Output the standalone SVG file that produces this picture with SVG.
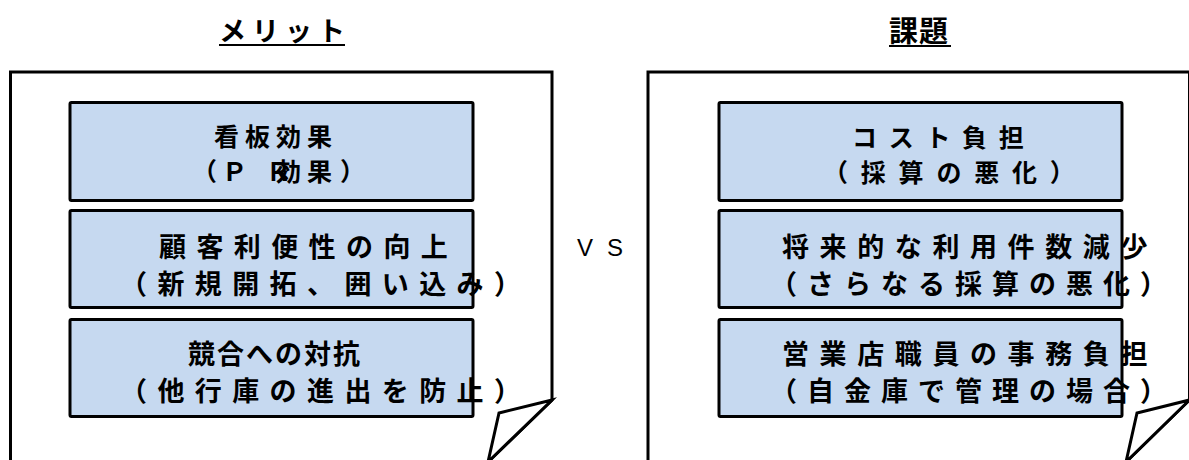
<svg xmlns="http://www.w3.org/2000/svg" width="1189" height="460" viewBox="0 0 1189 460">
<style>
.frame{fill:#fff;stroke:#000;stroke-width:3;stroke-linejoin:miter}
.flap{fill:#fff;stroke:#000;stroke-width:3;stroke-linejoin:miter}
.box{fill:#C6D9F0;stroke:#000;stroke-width:3}
.t{font-family:"Noto Sans CJK JP","Noto Sans CJK SC",sans-serif;font-weight:bold;fill:#000;font-size:27px}
.s{font-size:25px}
.title{font-family:"Noto Sans CJK JP",sans-serif;font-weight:bold;fill:#000}
.ul{stroke:#000;stroke-width:2}
.vs{font-family:"Liberation Sans",Arial,sans-serif;font-size:24px;fill:#000}
</style>
<g id="title-merit">
<text class="title" x="219" y="41" font-size="27" letter-spacing="6">メリット</text>
<line class="ul" x1="219" y1="45" x2="345" y2="45"/>
</g>
<g id="title-issues">
<text class="title" x="889" y="42" font-size="29" letter-spacing="1">課題</text>
<line class="ul" x1="889" y1="46" x2="951" y2="46"/>
</g>
<g id="page-left">
<path class="frame" d="M10.5,470 V72 H552 V400 L488,462"/>
<path class="flap" d="M552,400 L499,413 L488,462 Z"/>
</g>
<g id="page-right">
<path class="frame" d="M648,470 V72 H1189.5 V400 L1126,462"/>
<path class="flap" d="M1189.5,400 L1137,413 L1126,462 Z"/>
</g>
<g id="vs">
<text class="vs" x="577" y="256" letter-spacing="14">VS</text>
</g>
<g id="merit-1">
<rect class="box" x="70" y="102.5" width="403" height="98" rx="1.5"/>
<text class="t s" x="214" y="146" letter-spacing="6">看板効果</text>
<text class="t s"><tspan x="192" y="181">（</tspan><tspan x="222" y="181">Ｐ</tspan><tspan x="266" y="181">Ｒ</tspan><tspan x="276" y="181">効</tspan><tspan x="307" y="181">果</tspan><tspan x="340" y="181">）</tspan></text>
</g>
<g id="merit-2">
<rect class="box" x="70" y="210.5" width="403" height="97" rx="1.5"/>
<text class="t" x="159" y="257" letter-spacing="10.4">顧客利便性の向上</text>
<text class="t" x="120" y="294" letter-spacing="10.4">（新規開拓、囲い込み）</text>
</g>
<g id="merit-3">
<rect class="box" x="70" y="319.5" width="403" height="97" rx="1.5"/>
<text class="t" x="188" y="364" letter-spacing="2">競合への対抗</text>
<text class="t" x="120" y="401" letter-spacing="10.4">（他行庫の進出を防止）</text>
</g>
<g id="issue-1">
<rect class="box" x="719" y="102.5" width="403" height="98" rx="1.5"/>
<text class="t s" x="852" y="147" letter-spacing="11.7">コスト負担</text>
<text class="t s" x="823" y="182" letter-spacing="12.8">（採算の悪化）</text>
</g>
<g id="issue-2">
<rect class="box" x="719" y="210.5" width="403" height="97" rx="1.5"/>
<text class="t" x="782" y="257" letter-spacing="10.6">将来的な利用件数減少</text>
<text class="t" x="770" y="294" letter-spacing="10">（さらなる採算の悪化）</text>
</g>
<g id="issue-3">
<rect class="box" x="719" y="319.5" width="403" height="97" rx="1.5"/>
<text class="t" x="782" y="364" letter-spacing="10.6">営業店職員の事務負担</text>
<text class="t" x="770" y="401" letter-spacing="10">（自金庫で管理の場合）</text>
</g>
</svg>
